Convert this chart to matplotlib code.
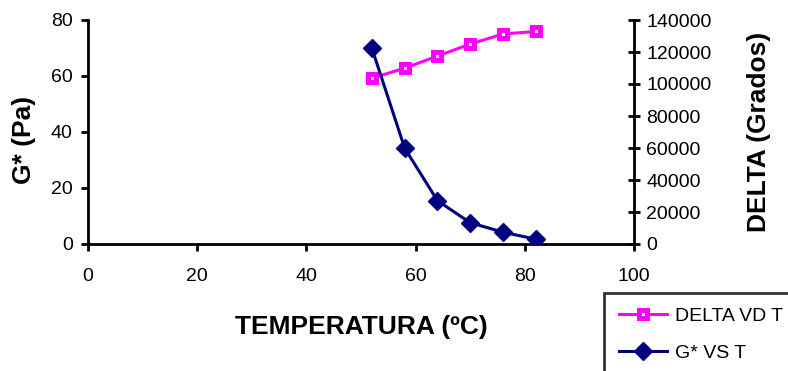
import matplotlib
matplotlib.use('Agg')
import matplotlib.pyplot as plt

# temperatura (ºC)
temps = [52, 58, 64, 70, 76, 82]
# delta (grados), eje izquierdo
delta = [59.2, 62.8, 67.1, 71.4, 75.0, 75.9]
# G* (Pa), eje derecho
gstar = [122300, 59900, 27100, 13300, 7400, 3000]

left_ticks = [0, 20, 40, 60, 80]
right_ticks = [0, 20000, 40000, 60000, 80000, 100000, 120000, 140000]
x_ticks = [0, 20, 40, 60, 80, 100]

plt.rcParams['font.family'] = ['Liberation Sans', 'DejaVu Sans']

fig = plt.figure(figsize=(7.88, 3.71), dpi=100)
ax = fig.add_axes([88 / 788, 1 - 244 / 371, (634 - 88) / 788, (244 - 20) / 371])
ax2 = ax.twinx()

lDelta, = ax.plot(temps, delta, color='#ff00ff', lw=2.2, marker='s', ms=6,
                  mfc='white', mec='#ff00ff', mew=3.6, label='DELTA VD T', zorder=2)
lG, = ax2.plot(temps, gstar, color='#000080', lw=2.2, marker='D', ms=9,
               mfc='#000080', mec='#000080', label='G* VS T', zorder=3)

ax.set_xlim(0, 100)
ax.set_ylim(0, 80)
ax2.set_ylim(0, 140000)
ax.set_xticks(x_ticks)
ax.set_yticks(left_ticks)
ax2.set_yticks(right_ticks)

for a in (ax, ax2):
    a.spines['top'].set_visible(False)
    for s in a.spines.values():
        s.set_linewidth(2)
ax.spines['right'].set_visible(False)
ax2.spines['left'].set_visible(False)
ax2.spines['bottom'].set_visible(False)

ax.tick_params(axis='both', labelsize=14, width=2, length=5, direction='out', pad=6)
ax.tick_params(axis='x', pad=12)
ax2.tick_params(axis='y', labelsize=14, width=2, length=8, direction='inout', pad=5)

ax.set_xlabel('TEMPERATURA (ºC)', fontsize=19, fontweight='bold', labelpad=22)
ax.set_ylabel('G* (Pa)', fontsize=19, fontweight='bold')
ax2.set_ylabel('DELTA (Grados)', fontsize=19, fontweight='bold')
ax.yaxis.set_label_coords(-0.096, 0.464)
ax2.yaxis.set_label_coords(1.207, 0.5)

leg = fig.legend(handles=[lDelta, lG], loc='upper left',
                 bbox_to_anchor=(604 / 788, 1 - 293 / 371), fontsize=14,
                 frameon=True, fancybox=False, edgecolor='black',
                 borderaxespad=0, handlelength=2.5, handletextpad=0.4,
                 borderpad=0.75, labelspacing=1.0)
leg.get_frame().set_linewidth(2)

fig.savefig('out.png', dpi=100)
